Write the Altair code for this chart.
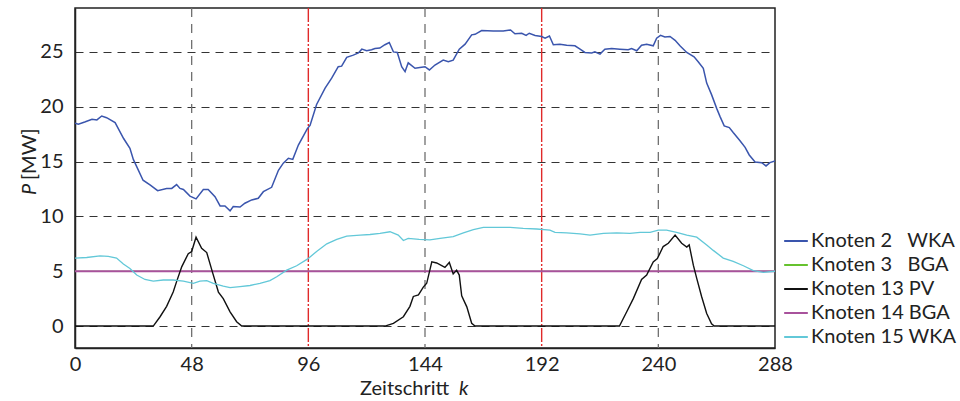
import altair as alt
import pandas as pd

# Time steps and power values (MW) per node
blue_k = [0, 1.4, 4, 7, 9, 11, 13, 16.5, 20, 22.6, 24, 28, 31, 34, 37.7, 39.8, 41.8, 43.2, 44.6, 47.3,
          49.8, 52.8, 54.8, 57.6, 59.7, 61.7, 63.8, 65.1, 67.9, 69.9, 72.7, 75.4, 77.5, 80.9, 83.7, 85.7,
          87.8, 89.6, 91.9, 95.6, 96.7, 99.4, 102.9, 105.6, 108.3, 109.7, 111.8, 114.5, 116.6, 118, 120,
          122, 123.4, 125.4, 127.5, 129.3, 131, 132.6, 134.4, 135.8, 137.1, 139.9, 142.6, 144, 145.8,
          148.1, 151.5, 153.6, 155.6, 158.1, 160.5, 163.2, 164.6, 167.3, 172.1, 176.2, 179.2, 181, 183.8,
          185.6, 186.9, 189.3, 192, 193.4, 195.2, 196.8, 199.5, 202.3, 205.7, 207.8, 209.8, 212.6, 213.9,
          216, 218, 220.8, 224.2, 227.6, 229, 231.1, 233.1, 235.2, 237.9, 239.3, 240.9, 242.7, 244.8,
          246.9, 248.9, 251.7, 254.7, 256.4, 258.5, 259.9, 261.9, 264, 265.4, 267.1, 269.2, 270.8, 273.6,
          275.7, 277.4, 279.8, 282.5, 284.3, 285.9, 288]
blue_p = [18.5, 18.4, 18.6, 18.85, 18.8, 19.15, 19.0, 18.55, 17.1, 16.2, 15.2, 13.3, 12.85, 12.35, 12.55,
          12.55, 12.9, 12.55, 12.45, 11.85, 11.6, 12.45, 12.45, 11.8, 10.95, 10.95, 10.5, 10.9, 10.85,
          11.2, 11.5, 11.65, 12.25, 12.65, 14.2, 14.85, 15.3, 15.2, 16.5, 18.0, 18.3, 20.2, 21.7, 22.6,
          23.65, 23.7, 24.5, 24.7, 24.9, 25.25, 25.1, 25.2, 25.3, 25.35, 25.65, 25.85, 25.0, 24.95, 23.65,
          23.2, 24.0, 23.5, 23.6, 23.65, 23.35, 23.8, 24.25, 24.1, 24.25, 25.25, 25.7, 26.55, 26.6, 26.95,
          26.9, 26.9, 27.0, 26.65, 26.7, 26.5, 26.7, 26.5, 26.4, 26.25, 26.45, 25.65, 25.7, 25.6, 25.55,
          25.25, 24.95, 24.9, 25.0, 24.8, 25.25, 25.3, 25.25, 25.2, 25.3, 25.1, 25.6, 25.7, 25.55, 26.25,
          26.5, 26.35, 26.4, 26.05, 25.55, 24.95, 24.55, 24.1, 23.5, 22.15, 21.1, 19.85, 19.1, 18.25,
          18.1, 17.65, 16.9, 16.3, 15.6, 14.95, 14.9, 14.6, 14.9, 15.05]

cyan_k = [0, 4.8, 10.3, 13.7, 17.1, 19.9, 22.6, 25.4, 28.8, 32.2, 36.3, 40.4, 44.6, 48.7, 51.4, 54.2,
          56.9, 61, 63.8, 67.9, 72, 76.1, 80.2, 83, 87.1, 91.2, 95.6, 99.4, 103.6, 107.7, 111.8, 117.3,
          121.4, 125.5, 129.6, 133, 135.1, 137.1, 141.6, 146, 150.2, 155.6, 159.8, 163.9, 168, 173.5,
          179, 184.4, 190, 195.4, 197.5, 202.3, 207.8, 211.9, 217.4, 222.9, 228.3, 232.5, 236.6, 240,
          243.4, 247.5, 251.7, 255.8, 259.9, 262.6, 266.7, 270.8, 275, 279.1, 283.2, 288]
cyan_p = [6.2, 6.25, 6.4, 6.35, 6.2, 5.65, 5.25, 4.65, 4.25, 4.1, 4.2, 4.2, 4.1, 3.9, 4.1, 4.15, 3.9,
          3.65, 3.5, 3.6, 3.7, 3.9, 4.15, 4.5, 5.1, 5.5, 6.1, 6.8, 7.5, 7.9, 8.2, 8.3, 8.35, 8.45, 8.6,
          8.3, 7.8, 8.0, 7.9, 7.85, 8.0, 8.15, 8.5, 8.8, 9.0, 9.0, 9.0, 8.9, 8.85, 8.75, 8.55, 8.5, 8.4,
          8.3, 8.45, 8.5, 8.45, 8.55, 8.55, 8.75, 8.75, 8.55, 8.3, 8.1, 7.4, 6.9, 6.2, 5.9, 5.5, 5.05,
          4.9, 5.0]

pv_k = [0, 32.2, 35, 37.7, 40.4, 41.8, 43.9, 46.6, 48, 49.8, 52.1, 54.2, 56.7, 59, 61, 63.8, 66.5,
        68.6, 127.5, 131, 135.1, 137.8, 139.2, 141.3, 143.3, 144.7, 146.8, 148.8, 152.2, 154, 155.6,
        157, 158.1, 159.1, 161.2, 163.2, 164.6, 224, 227, 229.7, 233.1, 235.2, 237.9, 239.6, 242,
        244.1, 246.9, 249.6, 251.7, 252.7, 254.4, 255.8, 257.8, 259.9, 261.9, 263, 288]
pv_p = [0, 0, 0.85, 1.8, 3.1, 4.05, 5.4, 6.6, 6.8, 8.1, 7.1, 6.7, 4.8, 3.1, 2.5, 1.3, 0.4, 0, 0, 0.25,
        0.85, 1.8, 2.7, 2.85, 3.55, 3.9, 5.85, 5.75, 5.35, 5.8, 4.75, 5.1, 4.65, 2.75, 1.75, 0.25, 0, 0,
        1.3, 2.5, 4.25, 4.65, 5.85, 6.15, 7.25, 7.55, 8.3, 7.55, 7.2, 7.4, 5.55, 4.35, 2.7, 1.15, 0.2, 0, 0]

bga_k = [0, 288]
bga3_p = [5, 5]
bga14_p = [5, 5]

x_ticks = [0, 48, 96, 144, 192, 240, 288]
y_ticks = [0, 5, 10, 15, 20, 25]
grid_gray_k = [48, 144, 240]
grid_red_k = [96, 192]

NB = "\u00a0"
names = [
    "Knoten 2" + NB * 3 + "WKA",
    "Knoten 3" + NB * 3 + "BGA",
    "Knoten 13 PV",
    "Knoten 14 BGA",
    "Knoten 15 WKA",
]
colors = ["#3a55ad", "#66c22e", "#111111", "#a8529c", "#62c8d8"]

FONT = "Lato"


def series(name, k, p):
    return pd.DataFrame({"k": k, "P": p, "s": name})


color_scale = alt.Scale(domain=names, range=colors)
x_enc = alt.X("k:Q", scale=alt.Scale(domain=[0, 288], nice=False, zero=False),
              axis=alt.Axis(values=x_ticks, title=None, grid=False, labelFlush=False))
y_enc = alt.Y("P:Q", scale=alt.Scale(domain=[-2, 29], nice=False, zero=False),
              axis=alt.Axis(values=y_ticks, title=None, grid=True, labelFlush=False))


def line(df, width):
    return alt.Chart(df).mark_line(strokeWidth=width, clip=True).encode(
        x=x_enc, y=y_enc,
        color=alt.Color("s:N", scale=color_scale, title=None),
    )


gray_rules = alt.Chart(pd.DataFrame({"k": grid_gray_k})).mark_rule(
    color="#707070", strokeDash=[9, 7], strokeWidth=1.3
).encode(x="k:Q")
red_rules = alt.Chart(pd.DataFrame({"k": grid_red_k})).mark_rule(
    color="#e02a2a", strokeDash=[14, 2, 2, 2], strokeWidth=1.4
).encode(x="k:Q")

# the two BGA nodes share the same constant output; node 14 is drawn on top of node 3
lines = [
    line(series(names[1], bga_k, bga3_p), 1.2),
    line(series(names[3], bga_k, bga14_p), 1.9),
    line(series(names[0], blue_k, blue_p), 1.5),
    line(series(names[2], pv_k, pv_p), 1.4),
    line(series(names[4], cyan_k, cyan_p), 1.3),
]


def label(text, x, y, italic=False, angle=0, align="left"):
    props = dict(font=FONT, fontSize=20, color="#222", align=align, baseline="middle")
    if italic:
        props["fontStyle"] = "italic"
    if angle:
        props["angle"] = angle
    return alt.Chart(pd.DataFrame({"t": [text]})).mark_text(**props).encode(
        text="t:N", x=alt.value(x), y=alt.value(y)
    )


titles = [
    label("Zeitschritt", 285, 381),
    label("k", 384, 381, italic=True),
    label("P", -45, 187, italic=True, angle=270),
    label("[MW]", -45, 172, angle=270),
]

chart = alt.layer(gray_rules, red_rules, *lines, *titles).properties(
    width=700, height=340,
    autosize=alt.AutoSizeParams(type="none"),
    padding={"left": 75, "top": 8, "right": 185, "bottom": 53},
).configure_view(
    stroke="#222", strokeWidth=1.5
).configure_axis(
    labelFont=FONT, labelFontSize=20, labelColor="#222",
    domainColor="#222", domainWidth=1.5, tickSize=0,
    gridColor="#333", gridDash=[8, 6], gridWidth=1,
).configure_axisY(
    labelPadding=12
).configure_axisX(
    labelPadding=6
).configure_legend(
    orient="none", legendX=708, legendY=220,
    symbolType="stroke", symbolSize=560, symbolStrokeWidth=2, symbolOpacity=1,
    labelFont=FONT, labelFontSize=20, labelColor="#222",
    labelOffset=2, rowPadding=1, padding=0,
)

chart.save("out.html", embed_options={"renderer": "svg", "actions": False})
